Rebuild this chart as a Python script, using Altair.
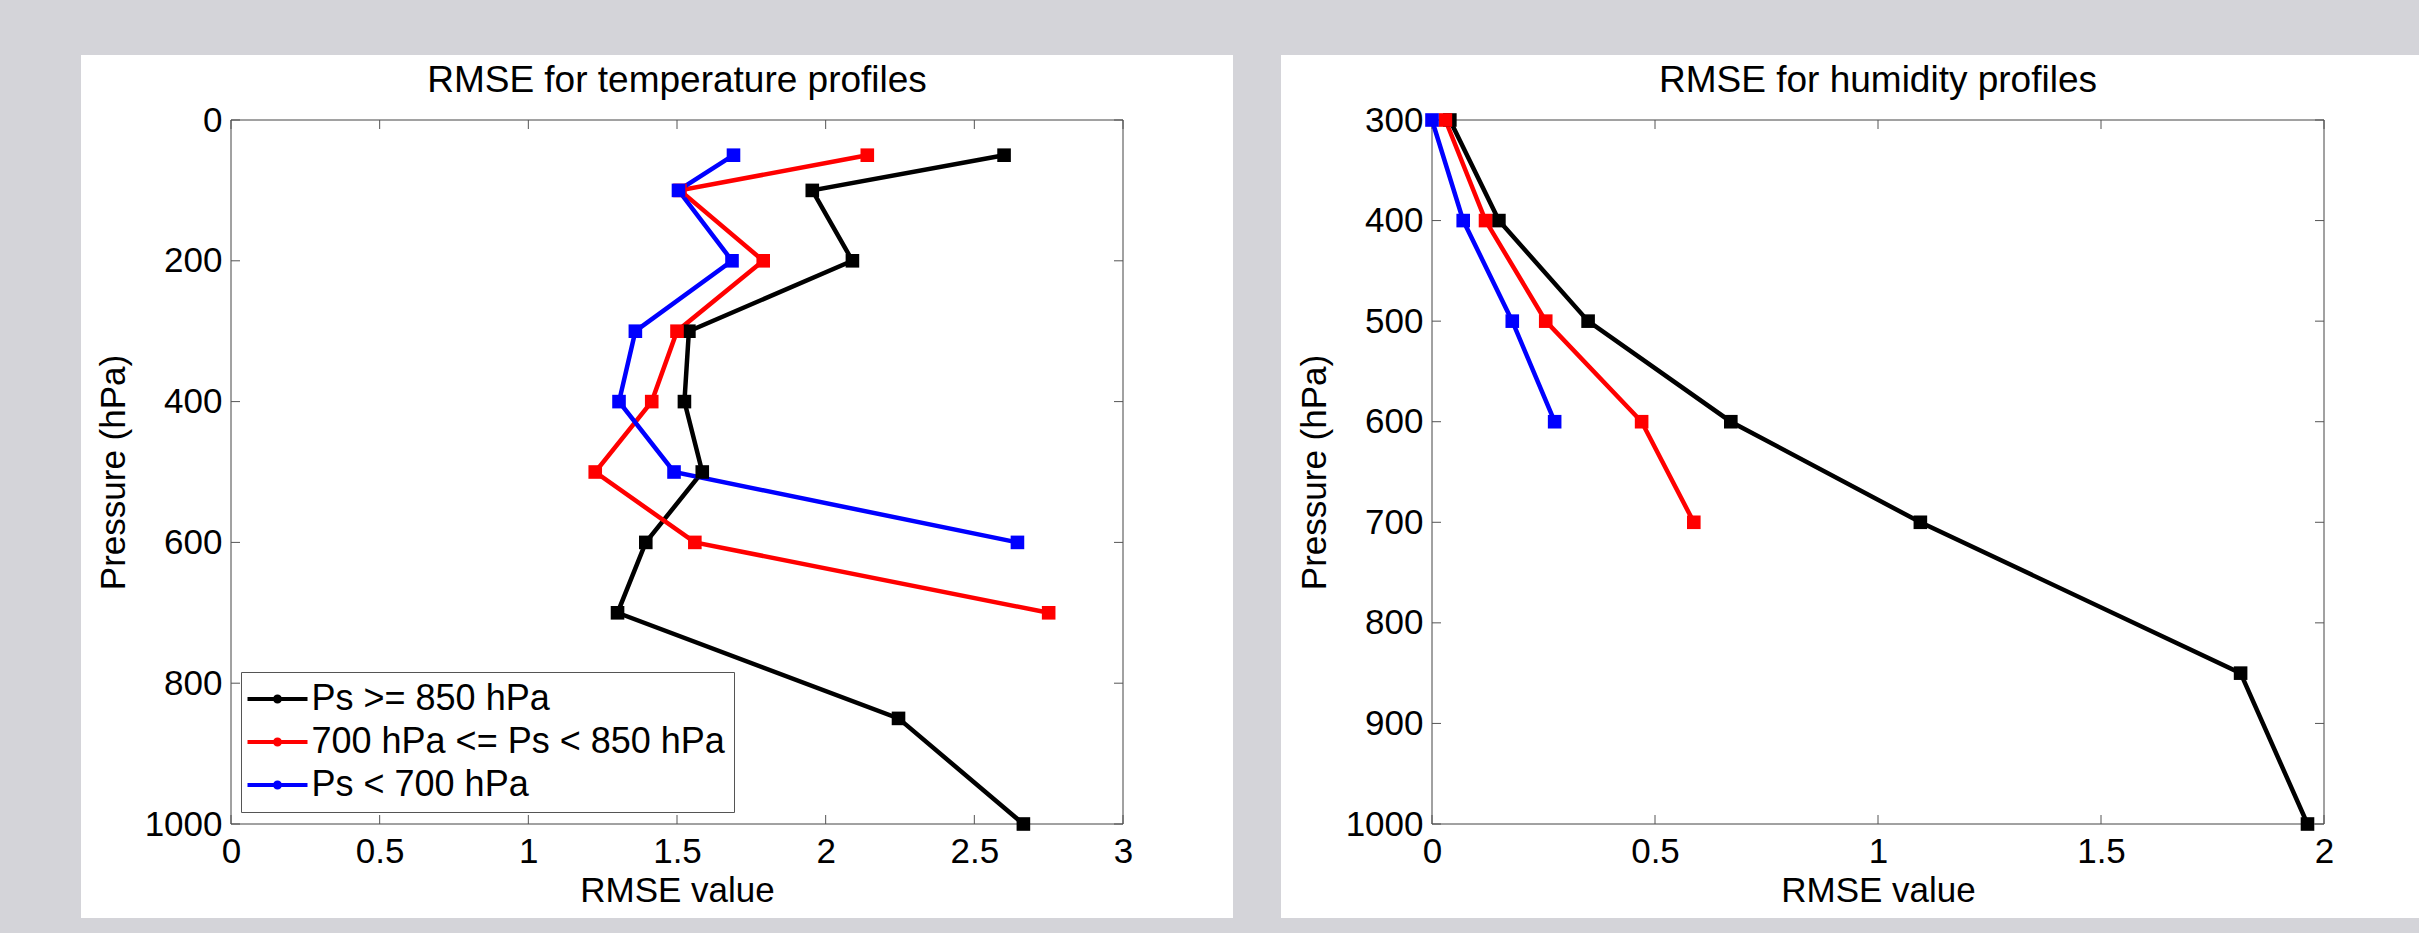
import altair as alt
import pandas as pd

FONT = "Liberation Sans"
SERIES = ["Ps >= 850 hPa", "700 hPa <= Ps < 850 hPa", "Ps < 700 hPa"]
COLORS = ["#000000", "#ff0000", "#0000ff"]

# Temperature RMSE profiles
t_black_p = [50, 100, 200, 300, 400, 500, 600, 700, 850, 1000]
t_black_v = [2.60, 1.955, 2.09, 1.54, 1.525, 1.585, 1.395, 1.30, 2.245, 2.665]
t_red_p = [50, 100, 200, 300, 400, 500, 600, 700]
t_red_v = [2.14, 1.51, 1.79, 1.50, 1.415, 1.225, 1.56, 2.75]
t_blue_p = [50, 100, 200, 300, 400, 500, 600]
t_blue_v = [1.69, 1.505, 1.685, 1.36, 1.305, 1.49, 2.645]

# Humidity RMSE profiles
h_black_p = [300, 400, 500, 600, 700, 850, 1000]
h_black_v = [0.04, 0.15, 0.35, 0.67, 1.095, 1.813, 1.963]
h_red_p = [300, 400, 500, 600, 700]
h_red_v = [0.03, 0.12, 0.255, 0.47, 0.587]
h_blue_p = [300, 400, 500, 600]
h_blue_v = [0.0, 0.07, 0.18, 0.275]

t_xticks = [0, 0.5, 1, 1.5, 2, 2.5, 3]
t_yticks = [0, 200, 400, 600, 800, 1000]
h_xticks = [0, 0.5, 1, 1.5, 2]
h_yticks = [300, 400, 500, 600, 700, 800, 900, 1000]

PH = 863            # height of each white panel
PY = (65, 769)      # plot area top / bottom inside a panel
TICK = "#555555"
FRAME = "#444444"
TL = 9              # inward tick length
PATH = ("M-3,0L3,0"
        "M-0.25,0A0.25,0.25,0,1,0,0.25,0A0.25,0.25,0,1,0,-0.25,0"
        "M-0.1,0A0.1,0.1,0,1,0,0.1,0A0.1,0.1,0,1,0,-0.1,0")


def frame_of(series_lists):
    rows = []
    for name, ps, vs in series_lists:
        for p, v in zip(ps, vs):
            rows.append({"series": name, "p": p, "rmse": v})
    return pd.DataFrame(rows)


def panel(title, df, xdom, ydom, xticks, yticks, pw, px, title_dx):
    x0, x1 = px
    y0, y1 = PY
    xs = alt.Scale(domain=xdom, range=[x0, x1], nice=False, zero=False)
    ys = alt.Scale(domain=ydom, range=[y0, y1], nice=False, zero=False)
    xaxis = alt.Axis(values=xticks, format="~g", title="RMSE value", labelPadding=10,
                     titlePadding=4, labelFlush=False, labelOverlap=False, zindex=1,
                     offset=-(PH - y1))
    yaxis = alt.Axis(values=yticks, format="d", title="Pressure (hPa)", labelPadding=9,
                     titlePadding=13, labelFlush=False, labelOverlap=False, zindex=1,
                     offset=-x0)
    cscale = alt.Scale(domain=SERIES, range=COLORS)
    one = pd.DataFrame({"k": [0]})

    box = alt.Chart(one).mark_rect(fillOpacity=0, stroke=FRAME, strokeWidth=1).encode(
        x=alt.value(x0), x2=alt.value(x1), y=alt.value(y0), y2=alt.value(y1))

    xt = pd.DataFrame({"rmse": xticks})
    yt = pd.DataFrame({"p": yticks})
    tk_top = alt.Chart(xt).mark_rule(color=TICK, strokeWidth=1).encode(
        x=alt.X("rmse:Q", scale=xs, axis=xaxis), y=alt.value(y0), y2=alt.value(y0 + TL))
    tk_bot = alt.Chart(xt).mark_rule(color=TICK, strokeWidth=1).encode(
        x=alt.X("rmse:Q", scale=xs, axis=xaxis), y=alt.value(y1 - TL), y2=alt.value(y1))
    tk_left = alt.Chart(yt).mark_rule(color=TICK, strokeWidth=1).encode(
        y=alt.Y("p:Q", scale=ys, axis=yaxis), x=alt.value(x0), x2=alt.value(x0 + TL))
    tk_right = alt.Chart(yt).mark_rule(color=TICK, strokeWidth=1).encode(
        y=alt.Y("p:Q", scale=ys, axis=yaxis), x=alt.value(x1 - TL), x2=alt.value(x1))

    lines = alt.Chart(df).mark_line(strokeWidth=4.5).encode(
        x=alt.X("rmse:Q", scale=xs, axis=xaxis),
        y=alt.Y("p:Q", scale=ys, axis=yaxis),
        color=alt.Color("series:N", scale=cscale, sort=SERIES, legend=alt.Legend(
            title=None, orient="none", legendX=x0 + 10, legendY=y1 - 152,
            symbolType=PATH, symbolSize=400, symbolStrokeWidth=4, symbolOffset=9.5,
            labelFontSize=36, labelFont=FONT,
            labelColor="black", labelLimit=900, labelOffset=16, padding=9,
            rowPadding=7, strokeColor="#555555", fillColor="white")),
        order=alt.Order("p:Q"),
    )

    pts = alt.Chart(df).mark_point(shape="square", filled=True, size=185, opacity=1).encode(
        x=alt.X("rmse:Q", scale=xs, axis=xaxis),
        y=alt.Y("p:Q", scale=ys, axis=yaxis),
        color=alt.Color("series:N", scale=cscale, legend=None),
    )

    return alt.layer(box, tk_top, tk_bot, tk_left, tk_right, lines, pts).properties(
        width=pw, height=PH,
        title=alt.Title(title, fontSize=37, font=FONT, fontWeight="normal", color="black",
                        anchor="middle", frame="group", baseline="alphabetic",
                        offset=-74, dx=title_dx),
    )


temp_df = frame_of([(SERIES[0], t_black_p, t_black_v),
                    (SERIES[1], t_red_p, t_red_v),
                    (SERIES[2], t_blue_p, t_blue_v)])
hum_df = frame_of([(SERIES[0], h_black_p, h_black_v),
                   (SERIES[1], h_red_p, h_red_v),
                   (SERIES[2], h_blue_p, h_blue_v)])

left = panel("RMSE for temperature profiles", temp_df, [0, 3], [0, 1000],
             t_xticks, t_yticks, 1152, (150, 1042), 20)
right = panel("RMSE for humidity profiles", hum_df, [0, 2], [300, 1000],
              h_xticks, h_yticks, 1138, (151, 1043), 28)

chart = alt.hconcat(left, right, spacing=48).properties(
    padding={"left": 81, "top": 55, "right": 0, "bottom": 15},
    background="#d4d4d9",
).configure_view(stroke=None, fill="white").configure_axis(
    labelFont=FONT, titleFont=FONT, labelFontSize=35, titleFontSize=35,
    labelColor="black", titleColor="black", titleFontWeight="normal",
    grid=False, domain=False, ticks=False,
)

chart.save("out.html", embed_options={"renderer": "svg", "actions": False})
